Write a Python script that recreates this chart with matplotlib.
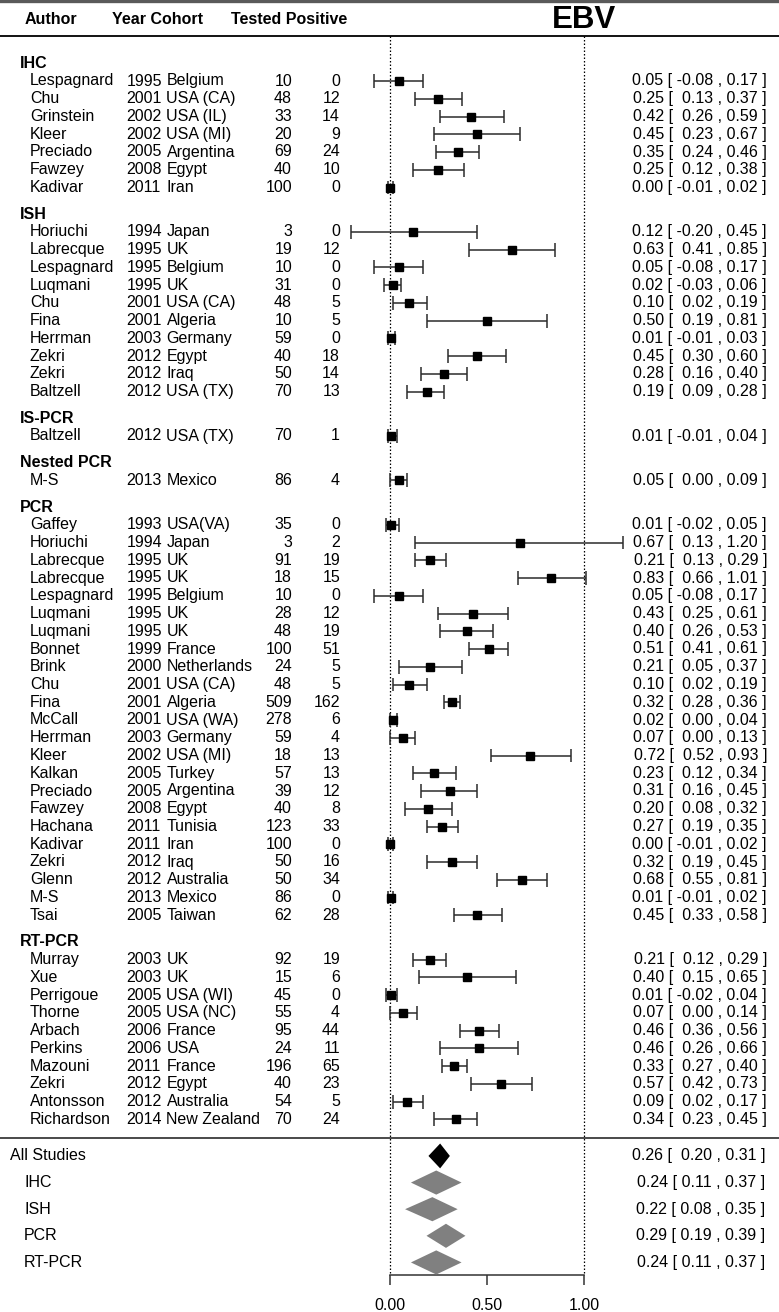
import numpy as np
import matplotlib
matplotlib.use("Agg")
import matplotlib.pyplot as plt
from matplotlib.patches import Polygon

plt.rcParams['font.family'] = ['Liberation Sans', 'DejaVu Sans']

# ---- data ----
group_names = ["IHC", "ISH", "IS-PCR", "Nested PCR", "PCR", "RT-PCR"]
group_sizes = [7, 10, 1, 1, 23, 10]

author = ["Lespagnard", "Chu", "Grinstein", "Kleer", "Preciado", "Fawzey", "Kadivar",
          "Horiuchi", "Labrecque", "Lespagnard", "Luqmani", "Chu", "Fina", "Herrman", "Zekri", "Zekri", "Baltzell",
          "Baltzell",
          "M-S",
          "Gaffey", "Horiuchi", "Labrecque", "Labrecque", "Lespagnard", "Luqmani", "Luqmani", "Bonnet", "Brink",
          "Chu", "Fina", "McCall", "Herrman", "Kleer", "Kalkan", "Preciado", "Fawzey", "Hachana", "Kadivar",
          "Zekri", "Glenn", "M-S", "Tsai",
          "Murray", "Xue", "Perrigoue", "Thorne", "Arbach", "Perkins", "Mazouni", "Zekri", "Antonsson", "Richardson"]
year = [1995, 2001, 2002, 2002, 2005, 2008, 2011,
        1994, 1995, 1995, 1995, 2001, 2001, 2003, 2012, 2012, 2012,
        2012,
        2013,
        1993, 1994, 1995, 1995, 1995, 1995, 1995, 1999, 2000, 2001, 2001, 2001, 2003, 2002, 2005, 2005, 2008,
        2011, 2011, 2012, 2012, 2013, 2005,
        2003, 2003, 2005, 2005, 2006, 2006, 2011, 2012, 2012, 2014]
cohort = ["Belgium", "USA (CA)", "USA (IL)", "USA (MI)", "Argentina", "Egypt", "Iran",
          "Japan", "UK", "Belgium", "UK", "USA (CA)", "Algeria", "Germany", "Egypt", "Iraq", "USA (TX)",
          "USA (TX)",
          "Mexico",
          "USA(VA)", "Japan", "UK", "UK", "Belgium", "UK", "UK", "France", "Netherlands", "USA (CA)", "Algeria",
          "USA (WA)", "Germany", "USA (MI)", "Turkey", "Argentina", "Egypt", "Tunisia", "Iran", "Iraq",
          "Australia", "Mexico", "Taiwan",
          "UK", "UK", "USA (WI)", "USA (NC)", "France", "USA", "France", "Egypt", "Australia", "New Zealand"]
tested = [10, 48, 33, 20, 69, 40, 100,
          3, 19, 10, 31, 48, 10, 59, 40, 50, 70,
          70,
          86,
          35, 3, 91, 18, 10, 28, 48, 100, 24, 48, 509, 278, 59, 18, 57, 39, 40, 123, 100, 50, 50, 86, 62,
          92, 15, 45, 55, 95, 24, 196, 40, 54, 70]
positive = [0, 12, 14, 9, 24, 10, 0,
            0, 12, 0, 0, 5, 5, 0, 18, 14, 13,
            1,
            4,
            0, 2, 19, 15, 0, 12, 19, 51, 5, 5, 162, 6, 4, 13, 13, 12, 8, 33, 0, 16, 34, 0, 28,
            19, 6, 0, 4, 44, 11, 65, 23, 5, 24]
est = [0.05, 0.25, 0.42, 0.45, 0.35, 0.25, 0.00,
       0.12, 0.63, 0.05, 0.02, 0.10, 0.50, 0.01, 0.45, 0.28, 0.19,
       0.01,
       0.05,
       0.01, 0.67, 0.21, 0.83, 0.05, 0.43, 0.40, 0.51, 0.21, 0.10, 0.32, 0.02, 0.07, 0.72, 0.23, 0.31, 0.20,
       0.27, 0.00, 0.32, 0.68, 0.01, 0.45,
       0.21, 0.40, 0.01, 0.07, 0.46, 0.46, 0.33, 0.57, 0.09, 0.34]
ci_lo = [-0.08, 0.13, 0.26, 0.23, 0.24, 0.12, -0.01,
         -0.20, 0.41, -0.08, -0.03, 0.02, 0.19, -0.01, 0.30, 0.16, 0.09,
         -0.01,
         0.00,
         -0.02, 0.13, 0.13, 0.66, -0.08, 0.25, 0.26, 0.41, 0.05, 0.02, 0.28, 0.00, 0.00, 0.52, 0.12, 0.16, 0.08,
         0.19, -0.01, 0.19, 0.55, -0.01, 0.33,
         0.12, 0.15, -0.02, 0.00, 0.36, 0.26, 0.27, 0.42, 0.02, 0.23]
ci_hi = [0.17, 0.37, 0.59, 0.67, 0.46, 0.38, 0.02,
         0.45, 0.85, 0.17, 0.06, 0.19, 0.81, 0.03, 0.60, 0.40, 0.28,
         0.04,
         0.09,
         0.05, 1.20, 0.29, 1.01, 0.17, 0.61, 0.53, 0.61, 0.37, 0.19, 0.36, 0.04, 0.13, 0.93, 0.34, 0.45, 0.32,
         0.35, 0.02, 0.45, 0.81, 0.02, 0.58,
         0.29, 0.65, 0.04, 0.14, 0.56, 0.66, 0.40, 0.73, 0.17, 0.45]

summary_labels = ["All Studies", "IHC", "ISH", "PCR", "RT-PCR"]
summary_est = [0.26, 0.24, 0.22, 0.29, 0.24]
summary_lo = [0.20, 0.11, 0.08, 0.19, 0.11]
summary_hi = [0.31, 0.37, 0.35, 0.39, 0.37]

# ---- layout (y in row units, 1 row = 17.75 px, row 0 = first study) ----
ROW_PX = 17.75
Y0_PX = 81.0
W, H = 779, 1312


def px(p):
    # pixel column -> effect scale (0 at px 389.5, 1 at px 584.25)
    return (p - 389.5) / 194.75


rows = []
start = 0.0
group_rows = []
for n in group_sizes:
    group_rows.append(start)
    rows.extend(start + np.arange(n))
    start = start + n - 1 + 2.5
rows = np.array(rows)
last = rows[-1]
sum_rows = last + 2.06 + 1.5 * np.arange(len(summary_labels))
sep_row = last + 1.05
axis_row = last + 8.78
head_row = -3.44
head_line = -2.51
top_line = -4.51

fig = plt.figure(figsize=(W / 100, H / 100), dpi=100)
ax = fig.add_axes([0, 0, 1, 1])
ax.set_xlim(-2.0, 2.0)
ax.set_ylim((H - Y0_PX) / ROW_PX, -Y0_PX / ROW_PX)
ax.axis('off')

fs = 11.5

# frame lines
ax.axhline(top_line, color='#5a5a5a', lw=2.4)
ax.axhline(head_line, color='black', lw=1.3)
ax.axhline(sep_row, color='#4a4a4a', lw=1.4)
for xv in (0, 1):
    ax.plot([xv, xv], [head_line, axis_row], color='black', lw=0.9, ls=(0, (1.2, 1.6)))

# header
ax.text(px(25), head_row, "Author", fontsize=fs, fontweight='bold', va='center')
ax.text(px(112), head_row, "Year Cohort", fontsize=fs, fontweight='bold', va='center')
ax.text(px(231), head_row, "Tested Positive", fontsize=fs, fontweight='bold', va='center')
ax.text(1.0, head_row, "EBV", fontsize=22.5, fontweight='bold', va='center', ha='center')

# group headers
for g, r in zip(group_names, group_rows):
    ax.text(px(20), r - 1, g, fontsize=fs, fontweight='bold', va='center')

# study rows
for i, r in enumerate(rows):
    ax.text(px(30), r, author[i], fontsize=fs, va='center')
    ax.text(px(126.5), r, str(year[i]), fontsize=fs, va='center')
    ax.text(px(166.5), r, cohort[i], fontsize=fs, va='center')
    ax.text(px(292), r, str(tested[i]), fontsize=fs, va='center', ha='right')
    ax.text(px(340), r, str(positive[i]), fontsize=fs, va='center', ha='right')
    ax.text(px(767), r, f"{est[i]:.2f} [ {ci_lo[i]:5.2f} , {ci_hi[i]:.2f} ]",
            fontsize=fs, va='center', ha='right')

cap = 0.39
ax.hlines(rows, ci_lo, ci_hi, color='#2b2b2b', lw=1.1)
ax.vlines(ci_lo, rows - cap, rows + cap, color='#2b2b2b', lw=1.1)
ax.vlines(ci_hi, rows - cap, rows + cap, color='#2b2b2b', lw=1.1)
ax.plot(est, rows, 's', color='black', ms=5.2, zorder=3)

# summary diamonds
dh = 0.69
for k, r in enumerate(sum_rows):
    col = 'black' if k == 0 else '#808080'
    dh_k = 0.7 if k == 0 else 0.68
    poly = Polygon([(summary_lo[k], r), (summary_est[k], r - dh_k),
                    (summary_hi[k], r), (summary_est[k], r + dh_k)],
                   closed=True, facecolor=col, edgecolor='none', zorder=3)
    ax.add_patch(poly)
    lab_x = px(10) if k == 0 else px(24)
    ax.text(lab_x, r, summary_labels[k], fontsize=fs, va='center')
    lo_txt = f"{summary_lo[k]:5.2f}" if k == 0 else f"{summary_lo[k]:.2f}"
    ax.text(px(765), r, f"{summary_est[k]:.2f} [ {lo_txt} , {summary_hi[k]:.2f} ]",
            fontsize=fs, va='center', ha='right')

# x axis
ticks = [0.0, 0.5, 1.0]
ax.plot([0, 1], [axis_row, axis_row], color='#333333', lw=1.1)
ax.vlines(ticks, axis_row, axis_row + 0.56, color='#333333', lw=1.1)
for t in ticks:
    ax.text(t, axis_row + 1.68, f"{t:.2f}", fontsize=fs, ha='center', va='center')

fig.savefig("out.png", dpi=100)
